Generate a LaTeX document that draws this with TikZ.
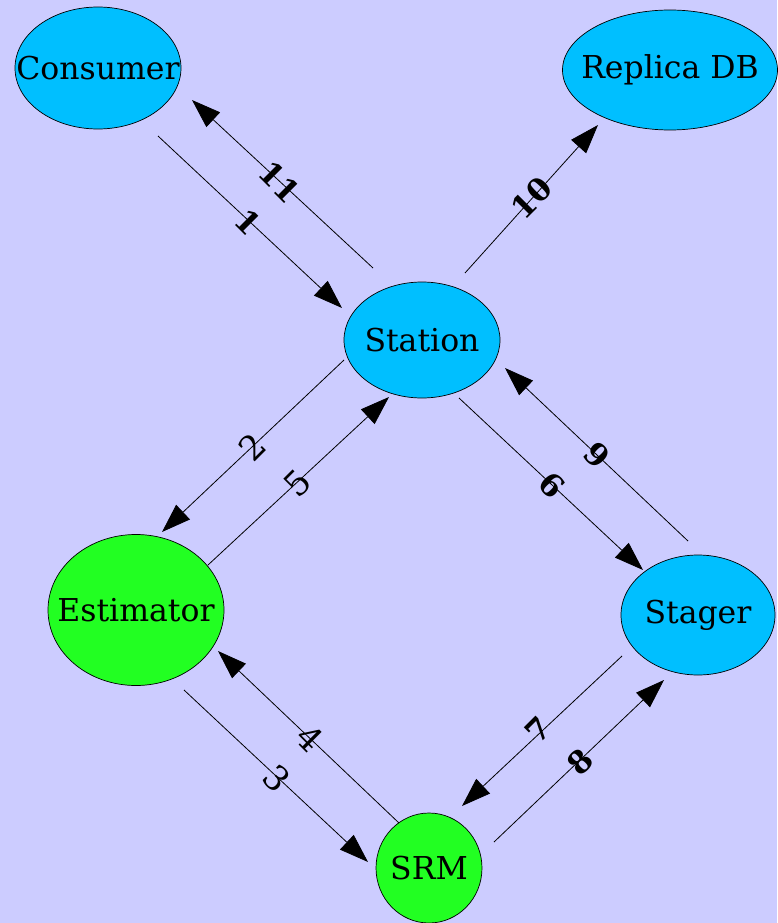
\documentclass[tikz,border=0pt]{standalone}
\usepackage{fontspec}
\setmainfont{DejaVu Serif}
\usetikzlibrary{shapes.geometric,arrows.meta}
\definecolor{bg}{HTML}{CCCCFF}
\definecolor{skyfill}{HTML}{00BFFF}
\definecolor{greenfill}{HTML}{22FF22}
\tikzset{
  state/.style={ellipse, draw=black, line width=0.7pt, inner sep=0pt,
    label={[font=\fontsize{31.5}{34}\selectfont, inner sep=0pt]center:#1}},
  sky/.style={state=#1, fill=skyfill},
  grn/.style={state=#1, fill=greenfill},
  flow/.style={draw=black, line width=0.8pt, -{Triangle[length=29pt,width=20pt]}},
  num/.style={font=\fontsize{31}{34}\selectfont\bfseries, inner sep=0pt},
  numlight/.style={font=\fontsize{34}{37}\selectfont, inner sep=0pt},
}
\begin{document}
\begin{tikzpicture}[x=1pt,y=-1pt]
  \fill[bg] (0,0) rectangle (777,923);
  \useasboundingbox (0,0) rectangle (777,923);

  % nodes (the ellipse is sized by hand, the name is set as a centred label)
  \node[sky=Consumer, minimum width=166pt, minimum height=122pt] (cons) at (98,68) {};
  \node[sky=Replica DB, minimum width=215pt, minimum height=120pt] (repl) at (670,70) {};
  \node[sky=Station, minimum width=156pt, minimum height=116pt] (stat) at (422,340) {};
  \node[grn=Estimator, minimum width=176pt, minimum height=151pt] (esti) at (136,610) {};
  \node[sky=Stager, minimum width=154pt, minimum height=120pt] (stag) at (698,615) {};
  \node[grn=SRM, minimum width=106pt, minimum height=110pt] (srm)  at (429,868) {};

  % connector end points
  \coordinate (e1s) at (158,136);  \coordinate (e1t) at (342,308);
  \coordinate (e11s) at (373,268); \coordinate (e11t) at (192,100);
  \coordinate (e10s) at (465,273); \coordinate (e10t) at (598,125);
  \coordinate (e2s) at (344,360);  \coordinate (e2t) at (162,532);
  \coordinate (e5s) at (208,565);  \coordinate (e5t) at (389,397);
  \coordinate (e6s) at (459,398);  \coordinate (e6t) at (643,570);
  \coordinate (e9s) at (688,541);  \coordinate (e9t) at (505,368);
  \coordinate (e7s) at (622,656);  \coordinate (e7t) at (462,806);
  \coordinate (e8s) at (494,842);  \coordinate (e8t) at (664,680);
  \coordinate (e3s) at (184,690);  \coordinate (e3t) at (368,862);
  \coordinate (e4s) at (399,823);  \coordinate (e4t) at (218,651);

  % connectors
  \draw[flow] (e1s) -- (e1t);
  \draw[flow] (e11s) -- (e11t);
  \draw[flow] (e10s) -- (e10t);
  \draw[flow] (e2s) -- (e2t);
  \draw[flow] (e5s) -- (e5t);
  \draw[flow] (e6s) -- (e6t);
  \draw[flow] (e9s) -- (e9t);
  \draw[flow] (e7s) -- (e7t);
  \draw[flow] (e8s) -- (e8t);
  \draw[flow] (e3s) -- (e3t);
  \draw[flow] (e4s) -- (e4t);

  % step numbers
  \node[num, rotate=-45] (l1) at (248,222) {1};
  \node[num, rotate=-45] (l11) at (280,182) {11};
  \node[num, rotate=45] (l10) at (532,198) {10};
  \node[numlight, rotate=45] (l2) at (252,447) {2};
  \node[numlight, rotate=45] (l5) at (298,483) {5};
  \node[num, rotate=-45] (l9) at (597,455) {9};
  \node[num, rotate=-45] (l6) at (552,485) {6};
  \node[numlight, rotate=-45] (l4) at (310,738) {4};
  \node[numlight, rotate=-45] (l3) at (277,778) {3};
  \node[num, rotate=45] (l7) at (538,730) {7};
  \node[num, rotate=45] (l8) at (580,762) {8};
\end{tikzpicture}
\end{document}
